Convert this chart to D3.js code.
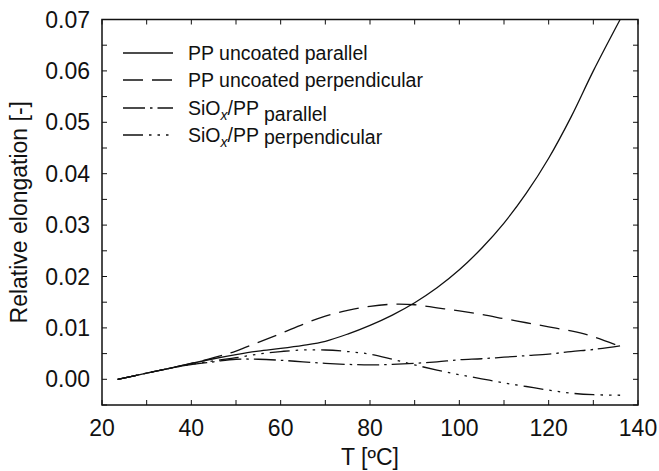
<!DOCTYPE html>
<html>
<head>
<meta charset="utf-8">
<script src="https://cdn.jsdelivr.net/npm/d3@7/dist/d3.min.js"></script>
<style>
  html, body { margin: 0; padding: 0; background: #fff; }
  svg text { font-family: "Liberation Sans", Arial, Helvetica, sans-serif; fill: #111; }
</style>
</head>
<body>
<svg id="chart" width="659" height="471"></svg>
<script>
// Temperature sampling points [°C]
const temperature = [23.5, 30, 38, 45, 50, 55, 60, 65, 70, 75, 80, 85, 90, 95, 100, 105, 110, 115, 120, 125, 130, 136];

// Relative elongation for each sample
const ppParallel      = [0, 0.0012, 0.0027, 0.0040, 0.0048, 0.0055, 0.0060, 0.0066, 0.0074, 0.0088, 0.0105, 0.0125, 0.0149, 0.0178, 0.0213, 0.0255, 0.0304, 0.0362, 0.0430, 0.0510, 0.0600, 0.0700];
const ppPerpendicular = [0, 0.0012, 0.0027, 0.0042, 0.0055, 0.0072, 0.0089, 0.0107, 0.0123, 0.0134, 0.0142, 0.0146, 0.0145, 0.0139, 0.0133, 0.0126, 0.0118, 0.0110, 0.0102, 0.0094, 0.0083, 0.0064];
const sioParallel     = [0, 0.0012, 0.0026, 0.0034, 0.0039, 0.0039, 0.0037, 0.0034, 0.0031, 0.0029, 0.0028, 0.0029, 0.0031, 0.0034, 0.0038, 0.0040, 0.0043, 0.0046, 0.0049, 0.0054, 0.0058, 0.0065];
const sioPerpendicular= [0, 0.0012, 0.0026, 0.0036, 0.0042, 0.0049, 0.0054, 0.0057, 0.0057, 0.0054, 0.0049, 0.0039, 0.0028, 0.0018, 0.0009, 0.0001, -0.0007, -0.0014, -0.0021, -0.0027, -0.0030, -0.0031];

const xTickLabels = [20, 40, 60, 80, 100, 120, 140];
const yTickLabels = ["0.00", "0.01", "0.02", "0.03", "0.04", "0.05", "0.06", "0.07"];

const series = [
  { key: "pp-par",  values: ppParallel,       dash: null,                   label: [["PP uncoated parallel", 0, false]] },
  { key: "pp-perp", values: ppPerpendicular,  dash: "20,9",                 label: [["PP uncoated perpendicular", 0, false]] },
  { key: "si-par",  values: sioParallel,      dash: "22,5,2.5,5",           label: [["SiO", 0, false], ["x", 5, true], ["/PP ", -5, false], ["parallel", 6, false]] },
  { key: "si-perp", values: sioPerpendicular, dash: "20,6,2.5,6,2.5,6,2.5,6", label: [["SiO", 0, false], ["x", 5, true], ["/PP ", -5, false], ["perpendicular", 2, false]] }
];

const W = 659, H = 471;
const margin = { left: 102, right: 21, top: 19.5, bottom: 66 };
const svg = d3.select("#chart");

const x = d3.scaleLinear().domain([20, 140]).range([margin.left, W - margin.right]);
const y = d3.scaleLinear().domain([-0.005, 0.07]).range([H - margin.bottom, margin.top]);

const xMinor = d3.range(20, 140.1, 10);
const yMinor = d3.range(-0.005, 0.0701, 0.005);
const tickLen = 5;

// Inward ticks on all four sides
const tickG = svg.append("g").attr("stroke", "#111").attr("stroke-width", 1);
xMinor.forEach(v => {
  tickG.append("line").attr("x1", x(v)).attr("x2", x(v)).attr("y1", y(-0.005)).attr("y2", y(-0.005) - tickLen);
  tickG.append("line").attr("x1", x(v)).attr("x2", x(v)).attr("y1", y(0.07)).attr("y2", y(0.07) + tickLen);
});
yMinor.forEach(v => {
  tickG.append("line").attr("y1", y(v)).attr("y2", y(v)).attr("x1", x(20)).attr("x2", x(20) + tickLen);
  tickG.append("line").attr("y1", y(v)).attr("y2", y(v)).attr("x1", x(140)).attr("x2", x(140) - tickLen);
});

// Frame
svg.append("rect")
  .attr("x", x(20)).attr("y", y(0.07))
  .attr("width", x(140) - x(20)).attr("height", y(-0.005) - y(0.07))
  .attr("fill", "none").attr("stroke", "#111").attr("stroke-width", 1.5);

// Tick labels
svg.append("g").selectAll("text").data(xTickLabels).join("text")
  .attr("x", d => x(d)).attr("y", y(-0.005) + 31)
  .attr("text-anchor", "middle").attr("font-size", 23)
  .text(d => d);

svg.append("g").selectAll("text").data(yTickLabels).join("text")
  .attr("x", x(20) - 12).attr("y", d => y(+d) + 8)
  .attr("text-anchor", "end").attr("font-size", 23)
  .text(d => d);

// Axis titles
svg.append("text")
  .attr("x", (x(20) + x(140)) / 2).attr("y", H - 6)
  .attr("text-anchor", "middle").attr("font-size", 23)
  .text("T [ºC]");

svg.append("text")
  .attr("transform", `translate(27,${(y(-0.005) + y(0.07)) / 2}) rotate(-90)`)
  .attr("text-anchor", "middle").attr("font-size", 23)
  .text("Relative elongation [-]");

// Curves
const line = d3.line()
  .x((d, i) => x(temperature[i]))
  .y(d => y(d))
  .curve(d3.curveCatmullRom.alpha(0.5));

svg.append("g").selectAll("path").data(series).join("path")
  .attr("d", d => line(d.values))
  .attr("fill", "none").attr("stroke", "#111").attr("stroke-width", 1.3)
  .attr("stroke-dasharray", d => d.dash);

// Legend
const legendRows = [53, 80, 108, 135];
const leg = svg.append("g");
series.forEach((s, i) => {
  const cy = legendRows[i];
  leg.append("line")
    .attr("x1", 123).attr("x2", 173).attr("y1", cy).attr("y2", cy)
    .attr("stroke", "#111").attr("stroke-width", 1.3)
    .attr("stroke-dasharray", s.dash);
  const t = leg.append("text").attr("x", 188).attr("y", cy + 7).attr("font-size", 19.5);
  s.label.forEach(([txt, dy, italic]) => {
    const sp = t.append("tspan").attr("dy", dy).text(txt);
    if (italic) sp.attr("font-style", "italic").attr("font-size", 14);
  });
});
</script>
</body>
</html>
